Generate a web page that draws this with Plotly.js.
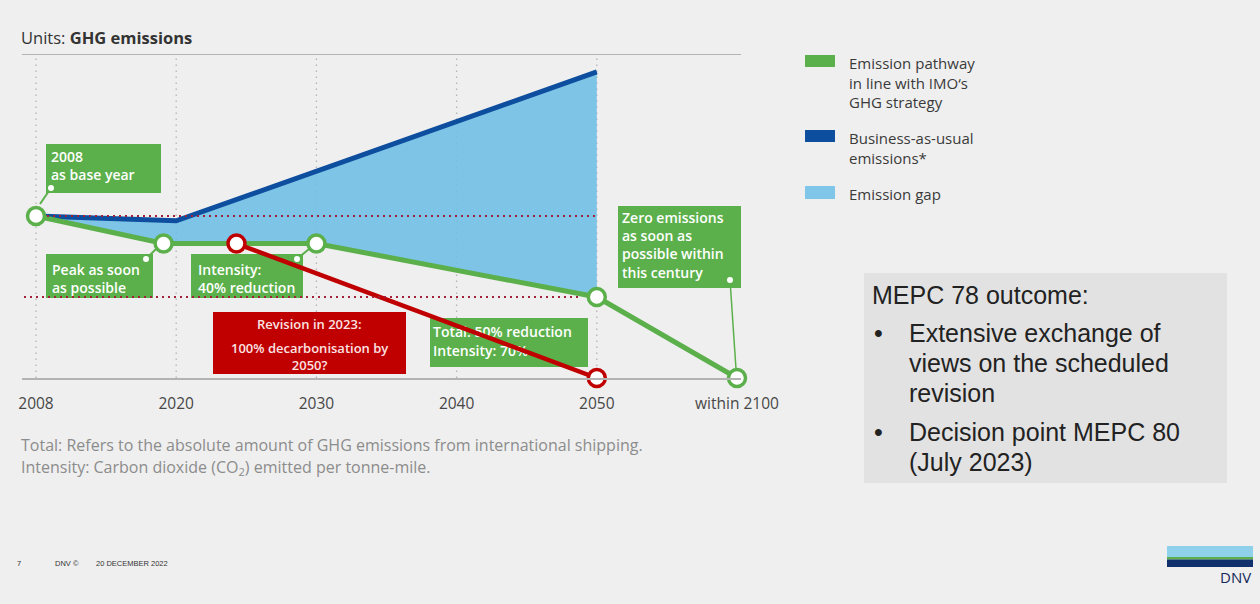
<!DOCTYPE html>
<html>
<head>
<meta charset="utf-8">
<script src="https://cdn.plot.ly/plotly-3.0.1.min.js"></script>
<style>
  html, body { margin: 0; padding: 0; background: #efefef; }
  #chart { width: 1260px; height: 604px; }
</style>
</head>
<body>
<div id="chart"></div>
<script>
// Horizontal axis: evenly spaced slots carrying the milestone labels
const tickLabels = ['2008', '2020', '2030', '2040', '2050', 'within 2100'];
const tickSlots = [0, 1, 2, 3, 4, 5];

// Emission index (2008 = 100) on the slot axis
const pathwayX = [0, 0.91, 2, 4, 5];      // IMO GHG strategy pathway
const pathwayY = [100, 83, 83, 50, 0];
const bauX = [0, 1, 4];                   // business-as-usual emissions
const bauY = [100, 97, 189];
const revisionX = [1.43, 4];              // 2023 revision: full decarbonisation by 2050
const revisionY = [83, 0];
const refLevels = [100, 50];              // base-year level and 50% reduction level

// Colours
const GREEN = '#5bb04b';
const BLUE = '#0d4e9e';
const GAP = '#7fc6e8';
const RED = '#c00000';

// Page geometry helpers
const W = 1260, H = 604;
const px = v => v / W;                    // page pixel -> paper fraction
const py = v => 1 - v / H;
const X0 = 36, XSTEP = 140.2;             // slot 0 position and slot width in pixels
const Y0 = 378, YSCALE = 1.62;            // baseline position and pixels per index point
const sx = v => (v - X0) / XSTEP;         // page pixel -> slot units
const sy = v => (Y0 - v) / YSCALE;        // page pixel -> index units

// Emission gap polygon: BAU line out, pathway back to the base year
const gapX = bauX.concat(pathwayX.slice(0, 4).reverse());
const gapY = bauY.concat(pathwayY.slice(0, 4).reverse());

const SANS = 'Open Sans, sans-serif';
const BOXFONT = { family: SANS, size: 14, color: '#ffffff', weight: 600 };

const traces = [
  {
    x: gapX, y: gapY, mode: 'lines', fill: 'toself',
    fillcolor: 'rgba(109,190,229,0.88)', line: { width: 0 },
    hoverinfo: 'skip', showlegend: false
  },
  {
    x: bauX, y: bauY, mode: 'lines',
    line: { color: BLUE, width: 5 }, cliponaxis: false,
    hoverinfo: 'skip', showlegend: false
  },
  {
    x: pathwayX, y: pathwayY, mode: 'lines+markers',
    line: { color: GREEN, width: 5 },
    marker: { size: 17, color: '#ffffff', line: { color: GREEN, width: 3.5 } },
    cliponaxis: false, hoverinfo: 'skip', showlegend: false
  },
  {
    // label inside the 2050 milestone box (sits under the revision line)
    x: [sx(433)], y: [sy(343)], mode: 'text', textposition: 'middle right',
    text: ['Total: 50% reduction<br>Intensity: 70%'],
    textfont: BOXFONT, cliponaxis: false, hoverinfo: 'skip', showlegend: false
  },
  {
    x: revisionX, y: revisionY, mode: 'lines+markers',
    line: { color: RED, width: 4.5 },
    marker: { size: 17, color: '#ffffff', line: { color: RED, width: 3.5 } },
    cliponaxis: false, hoverinfo: 'skip', showlegend: false
  }
];

const shapes = [];

// dotted vertical grid at each dated milestone
tickSlots.slice(0, 5).forEach(s => {
  shapes.push({ type: 'line', xref: 'x', yref: 'y', x0: s, x1: s, y0: 0, y1: sy(58),
    line: { color: '#b4b4b4', width: 1.3, dash: '1.5px,4.5px' }, layer: 'below' });
});

// milestone boxes, placed in the plot's own coordinates so they cover the grid
function box(x0, y0, x1, y1, color) {
  shapes.push({ type: 'rect', xref: 'x', yref: 'y',
    x0: sx(x0), x1: sx(x1), y0: sy(y1), y1: sy(y0),
    fillcolor: color, line: { width: 0 }, layer: 'below' });
}
// page furniture boxes (legend swatches, panel, logo)
function pbox(x0, y0, x1, y1, color, layer) {
  shapes.push({ type: 'rect', xref: 'paper', yref: 'paper',
    x0: px(x0), x1: px(x1), y0: py(y1), y1: py(y0),
    fillcolor: color, line: { width: 0 }, layer: layer || 'above' });
}
function dot(cx, cy) {
  shapes.push({ type: 'circle', xref: 'paper', yref: 'paper',
    x0: px(cx - 3), x1: px(cx + 3), y0: py(cy + 3), y1: py(cy - 3),
    fillcolor: '#ffffff', line: { width: 0 }, layer: 'above' });
}
function link(x0, y0, x1, y1, w) {
  shapes.push({ type: 'line', xref: 'x', yref: 'y',
    x0: sx(x0), x1: sx(x1), y0: sy(y0), y1: sy(y1),
    line: { color: GREEN, width: w || 2 }, layer: 'below' });
}

box(46, 144, 161, 193, GREEN);
box(46, 254, 153, 298, GREEN);
box(191, 254, 303, 298, GREEN);
box(213, 312, 406, 374, RED);
box(430, 318, 588, 367, GREEN);
box(618, 206, 741, 288, GREEN);

link(51, 188, 40, 204);
link(146, 259, 157, 248);
link(297, 259, 309, 249);
link(730, 280, 736, 369, 1.5);
dot(51, 188);
dot(146, 259);
dot(297, 259);
dot(730, 280);

// reference levels (dotted red)
shapes.push({ type: 'line', xref: 'x', yref: 'y', x0: sx(47), x1: 4, y0: refLevels[0], y1: refLevels[0],
  line: { color: '#a3203a', width: 2, dash: '2px,4px' }, layer: 'above' });
shapes.push({ type: 'line', xref: 'x', yref: 'y', x0: sx(24), x1: sx(580), y0: refLevels[1], y1: refLevels[1],
  line: { color: '#a3203a', width: 2, dash: '2px,4px' }, layer: 'above' });

// legend swatches
pbox(805, 55, 835, 67, GREEN);
pbox(805, 130, 835, 142, BLUE);
pbox(805, 186, 835, 199, GAP);

// MEPC panel
pbox(864, 273, 1227, 483, '#e2e2e2', 'below');

// logo bars
pbox(1167, 546, 1253, 557, '#8fd0ea');
pbox(1167, 557, 1253, 559.5, GREEN);
pbox(1167, 559.5, 1253, 567, '#10306e');

function note(x, y, text, font, xanchor) {
  return { xref: 'paper', yref: 'paper', x: px(x), y: py(y),
    xanchor: xanchor || 'left', yanchor: 'middle', showarrow: false,
    text: text, font: font, align: xanchor === 'center' ? 'center' : 'left' };
}

const LEG = { family: SANS, size: 15, color: '#3a3a3a' };
const FOOT = { family: SANS, size: 16, color: '#8c8c8c' };
const MEPC = { family: 'Liberation Sans, Arial, sans-serif', size: 25, color: '#222222' };
const SMALL = { family: 'Liberation Sans Narrow, Liberation Sans, sans-serif', size: 7.5, color: '#333333' };
const REDFONT = { family: SANS, size: 13, color: '#fbe3e3', weight: 600 };

const annotations = [
  note(19, 37, 'Units: <b>GHG emissions</b>', { family: SANS, size: 16.5, color: '#333333' }),

  note(49, 166, '2008<br>as base year', BOXFONT),
  note(50, 278, 'Peak as soon<br>as possible', BOXFONT),
  note(196, 278, 'Intensity:<br>40% reduction', BOXFONT),
  note(620, 245, 'Zero emissions<br>as soon as<br>possible within<br>this century', BOXFONT),
  note(309, 324, 'Revision in 2023:', REDFONT, 'center'),
  note(309, 356, '100% decarbonisation by<br>2050?', REDFONT, 'center'),

  note(847, 83, 'Emission pathway<br>in line with IMO\u2018s<br>GHG strategy', LEG),
  note(847, 148, 'Business-as-usual<br>emissions*', LEG),
  note(847, 194, 'Emission gap', LEG),

  note(870, 295, 'MEPC 78 outcome:', MEPC),
  note(872, 333, '\u2022', MEPC),
  note(907, 333, 'Extensive exchange of', MEPC),
  note(907, 363, 'views on the scheduled', MEPC),
  note(907, 393, 'revision', MEPC),
  note(872, 432, '\u2022', MEPC),
  note(907, 432, 'Decision point MEPC 80', MEPC),
  note(907, 462, '(July 2023)', MEPC),

  note(19, 445, 'Total: Refers to the absolute amount of GHG emissions from international shipping.', FOOT),
  note(19, 467, 'Intensity: Carbon dioxide (CO<sub>2</sub>) emitted per tonne-mile.', FOOT),

  note(15, 563, '7', SMALL),
  note(53, 563, 'DNV \u00a9', SMALL),
  note(94, 563, '20 DECEMBER 2022', SMALL),
  note(1253, 577, 'DNV', { family: SANS, size: 15, color: '#15285a' }, 'right')
];

const layout = {
  width: W, height: H,
  margin: { l: 0, r: 0, t: 0, b: 0 },
  paper_bgcolor: '#efefef', plot_bgcolor: 'rgba(0,0,0,0)',
  showlegend: false,
  xaxis: {
    domain: [px(22), px(741)],
    range: [sx(22), sx(741)],
    tickvals: tickSlots, ticktext: tickLabels,
    tickfont: { family: SANS, size: 15.5, color: '#474747' },
    ticklabelstandoff: 11,
    showgrid: false, zeroline: false,
    showline: true, mirror: true, linecolor: '#b3b3b3', linewidth: 1.5,
    ticks: '', fixedrange: true
  },
  yaxis: {
    domain: [py(378), py(55)],
    range: [0, sy(55)],
    visible: false, fixedrange: true
  },
  shapes: shapes,
  annotations: annotations
};

Plotly.newPlot('chart', traces, layout, { displayModeBar: false, staticPlot: true });
</script>
</body>
</html>
